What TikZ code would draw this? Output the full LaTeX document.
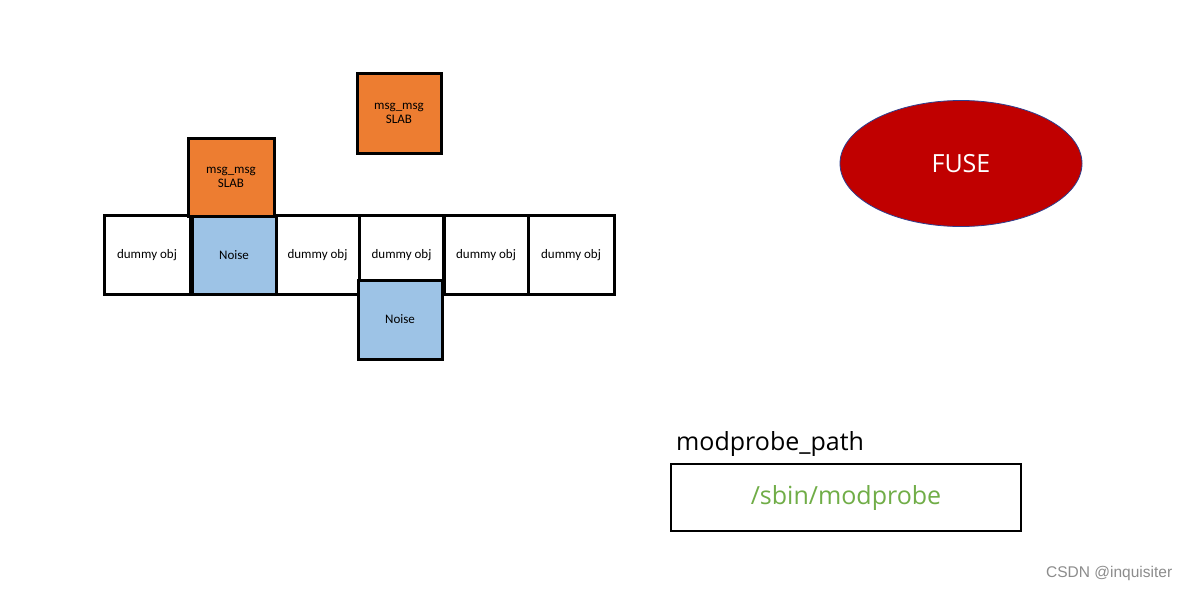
\documentclass[tikz,border=0pt]{standalone}
\usepackage{fontspec}
\usetikzlibrary{shapes.geometric}
\setmainfont{Carlito}
\newfontfamily\segoe{Open Sans}
\newfontfamily\wmfont{Liberation Sans}
\definecolor{slab}{HTML}{ED7D31}
\definecolor{noise}{HTML}{9DC3E6}
\definecolor{fuse}{HTML}{C00000}
\definecolor{fuseedge}{HTML}{2F3F8F}
\definecolor{pathgreen}{HTML}{70AD47}
\begin{document}
\begin{tikzpicture}[x=1pt,y=-1pt,
  cell/.style={draw=black,line width=3pt,minimum width=84pt,minimum height=79pt,inner sep=0pt,font=\fontsize{13}{14}\selectfont,align=center,outer sep=0pt},
  dummy/.style={cell,fill=white},
  noisebox/.style={cell,fill=noise},
  slabbox/.style={cell,fill=slab,align=center}]
\useasboundingbox (0,0) rectangle (1188,589);
\fill[white] (0,0) rectangle (1188,589);
% row
\node[dummy,minimum width=86pt] (d1) at (147,255) {dummy obj};
\node[dummy] (d3) at (317.5,255) {dummy obj};
\node[dummy] (d4) at (401.5,255) {dummy obj};
\node[dummy] (d5) at (486,255) {dummy obj};
\node[dummy,minimum width=86pt] (d6) at (571,255) {dummy obj};
\node[noisebox] (n1) at (234,255) {Noise};
\node[noisebox] (n2) at (400,319.5) {Noise};
\node[slabbox,minimum width=86pt,minimum height=78pt] (s1) at (231,177) {msg\_msg\\SLAB};
\node[slabbox,minimum height=80pt] (s2) at (399,113) {msg\_msg\\SLAB};
% FUSE
\node[ellipse,draw=fuseedge,line width=0.8pt,fill=fuse,minimum width=242pt,minimum height=126pt,text=white,font=\segoe\fontsize{25}{30}\selectfont] (fuse) at (961,163.5) {FUSE};
% modprobe path
\node[anchor=base west,font=\segoe\fontsize{25}{30}\selectfont,inner sep=0pt] (mplabel) at (676,450) {modprobe\_path};
\node[draw=black,line width=2pt,minimum width=350pt,minimum height=67pt,inner sep=0pt,text=pathgreen,font=\segoe\fontsize{25}{30}\selectfont] (mpbox) at (846,497.5) {\raisebox{-2pt}{/sbin/modprobe}};
% watermark
\node[anchor=base west,inner sep=0pt,text=black!45,font=\wmfont\fontsize{15.5}{18}\selectfont] (wm) at (1046,577) {CSDN @inquisiter};
\end{tikzpicture}
\end{document}
